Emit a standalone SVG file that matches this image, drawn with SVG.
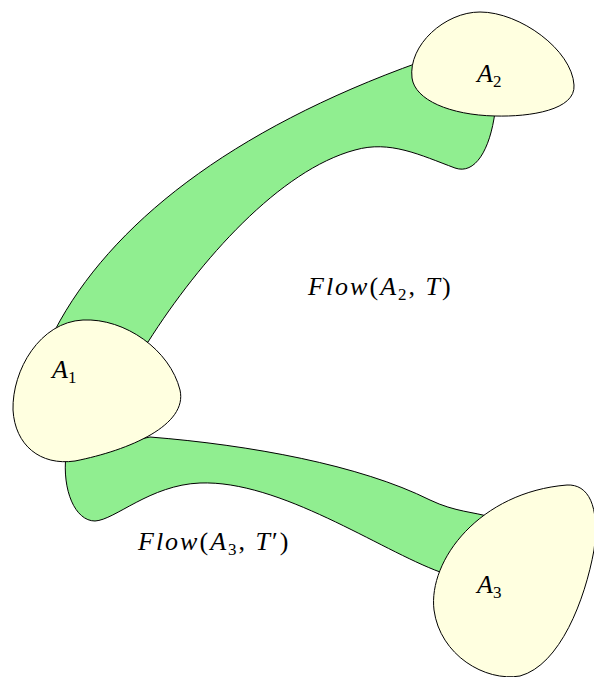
<svg xmlns="http://www.w3.org/2000/svg" width="594" height="677" viewBox="0 0 594 677">
<style>
.band{fill:#90ee90;stroke:#000;stroke-width:1;}
.blob{fill:#ffffe0;stroke:#000;stroke-width:1;}
text{font-family:"Liberation Serif","DejaVu Serif",serif;font-size:26px;fill:#000;}
.lbl{letter-spacing:2px;}
.i{font-style:italic;}
.u{font-style:normal;}
.s{font-style:normal;font-size:17px;}
</style>
<rect width="594" height="677" fill="#fff"/>
<g id="connectors">
<path id="flow-a2" class="band" d="M 55,330 C 110,225 230,130 420,62 L 490,90 L 495,112 C 490,150 475,175 455,168 C 420,155 390,140 355,150 C 280,170 200,260 148,342 L 100,360 Z"/>
<path id="flow-a3" class="band" d="M 150,437 C 250,445 360,465 430,500 C 455,512 475,512 490,517 L 480,580 L 440,572 C 380,550 280,480 200,483 C 150,485 115,520 95,521 C 75,521 62,490 66,455 Z"/>
</g>
<g id="A1">
<path class="blob" d="M 83,320 C 125,318 170,350 180,390 C 188,425 130,450 75,461 C 40,466 15,445 13,410 C 12,370 40,322 83,320 Z"/>
<text x="52" y="378"><tspan class="i">A</tspan><tspan class="s" dy="5">1</tspan></text>
</g>
<g id="A2">
<path class="blob" d="M 480,12 C 520,12 572,50 574,85 C 576,110 530,117 495,116 C 450,115 415,100 412,78 C 408,45 445,12 480,12 Z"/>
<text x="477" y="82"><tspan class="i">A</tspan><tspan class="s" dy="5">2</tspan></text>
</g>
<g id="A3">
<path class="blob" d="M 567,485 C 588,484 600,505 594,550 C 585,600 560,665 520,676 C 485,682 440,655 434,610 C 428,560 480,492 567,485 Z"/>
<text x="477" y="593"><tspan class="i">A</tspan><tspan class="s" dy="5">3</tspan></text>
</g>
<g id="label-flow-a2">
<text x="308" y="295" class="lbl"><tspan class="i">Flow</tspan><tspan class="u">(</tspan><tspan class="i">A</tspan><tspan class="s" dy="5">2</tspan><tspan class="u" dy="-5">, </tspan><tspan class="i">T</tspan><tspan class="u">)</tspan></text>
</g>
<g id="label-flow-a3">
<text x="138" y="550" class="lbl"><tspan class="i">Flow</tspan><tspan class="u">(</tspan><tspan class="i">A</tspan><tspan class="s" dy="5">3</tspan><tspan class="u" dy="-5">, </tspan><tspan class="i">T</tspan><tspan class="u">′)</tspan></text>
</g>
</svg>
